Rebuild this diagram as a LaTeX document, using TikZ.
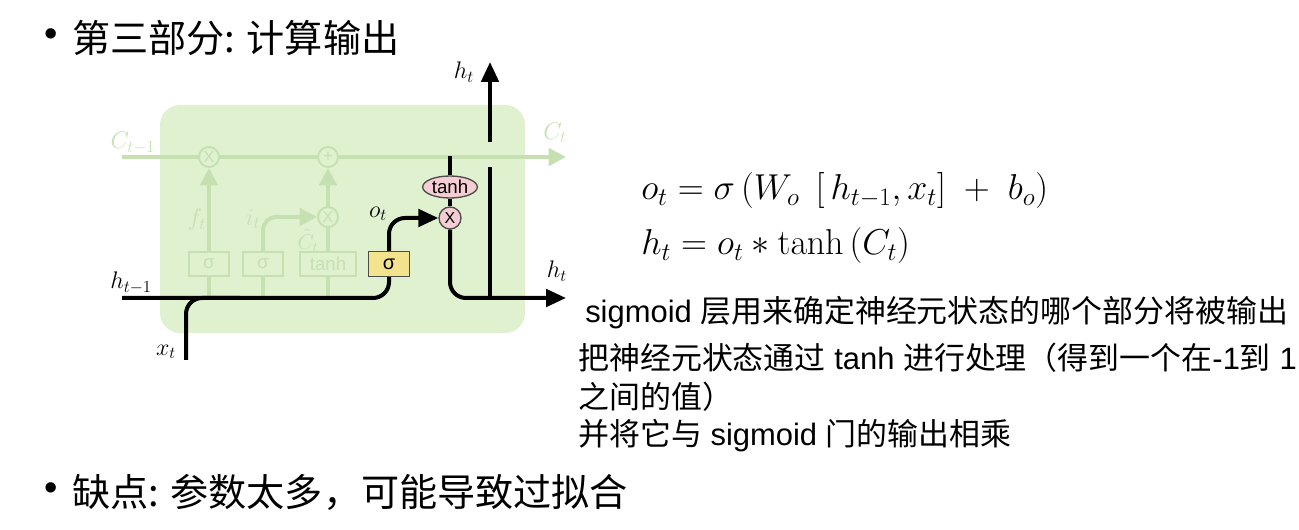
\RequirePackage{fix-cm}
\documentclass[tikz,border=0pt]{standalone}
\usepackage[no-math]{fontspec}
\setmainfont{Liberation Sans}
\newfontfamily\cjk{Noto Sans CJK SC}
\usetikzlibrary{arrows.meta,shapes.geometric}

\definecolor{cellbg}{RGB}{224,241,207}
\definecolor{ghost}{RGB}{198,224,178}
\definecolor{gatey}{RGB}{243,227,141}
\definecolor{gatep}{RGB}{245,205,211}

\tikzset{
	flow/.style={line width=3pt, black},
	flowarrow/.style={flow, -{Triangle[length=15pt,width=13pt]}},
	ghostline/.style={line width=3pt, color=ghost},
	ghostarrow/.style={ghostline, -{Triangle[length=13pt,width=13pt]}},
	ghostbox/.style={draw=ghost, fill=cellbg, line width=1.5pt, minimum width=30pt, minimum height=18pt, inner sep=0pt, text=ghost, font=\fontsize{14}{14}\selectfont},
	ghostop/.style={circle, draw=ghost, fill=cellbg, line width=1.5pt, minimum size=15pt, inner sep=0pt, text=ghost, font=\fontsize{12}{12}\selectfont},
	gatebox/.style={draw=black!70, fill=gatey, line width=1.2pt, minimum width=31pt, minimum height=18.5pt, inner sep=0pt, font=\fontsize{15}{15}\selectfont},
	pwop/.style={circle, draw=black!70, fill=gatep, line width=1pt, minimum size=16.5pt, inner sep=0pt, font=\fontsize{12}{12}\selectfont},
	pwfn/.style={ellipse, draw=black!70, fill=gatep, line width=1pt, minimum width=41pt, minimum height=16.5pt, inner sep=0pt, font=\fontsize{14}{14}\selectfont},
	lbl/.style={font=\fontsize{18}{18}\selectfont},
	ghostlbl/.style={lbl, text=ghost},
	eqn/.style={anchor=west, inner sep=0pt, font=\fontsize{27}{27}\selectfont},
	txt/.style={anchor=west, inner sep=0pt, font=\fontsize{23.2}{27}\selectfont},
	bigtxt/.style={anchor=west, inner sep=0pt, font=\fontsize{28.6}{32}\selectfont}
}

\begin{document}
\begin{tikzpicture}[x=0.75pt,y=0.75pt,yscale=-1,xscale=1]
	\useasboundingbox (0,0) rectangle (1299,530);

	% cell
	\fill [cellbg, rounded corners=15pt] (160,105) rectangle (525,333);

	% cell state line
	\coordinate (cin) at (122,157);
	\coordinate (cout) at (566,157);
	\draw [ghostarrow] (cin) -- (cout);

	% faded gates
	\node [ghostop] (fx) at (209,157) {X};
	\node [ghostop] (cadd) at (328,157) {+};
	\node [ghostop] (ix) at (328,217) {X};
	\node [ghostbox] (fgate) at (209,264) {σ};
	\node [ghostbox] (igate) at (263,264) {σ};
	\node [ghostbox, minimum width=42pt] (cgate) at (328,264) {tanh};

	\coordinate (hin) at (122,298);
	\draw [ghostarrow] (fgate.north) -- (fx.south);
	\draw [ghostline] (fgate.south) -- (fgate.south |- hin);
	\draw [ghostline] (igate.south) -- (igate.south |- hin);
	\draw [ghostline] (cgate.south) -- (cgate.south |- hin);
	\draw [ghostarrow, rounded corners=10pt] (igate.north) |- (ix.west);
	\draw [ghostline] (cgate.north) -- (ix.south);
	\draw [ghostarrow] (ix.north) -- (cadd.south);

	% output gate
	\node [gatebox] (ogate) at (389,264) {σ};
	\node [pwfn] (tanhc) at (450,187) {tanh};
	\node [pwop] (ox) at (450,218) {X};

	\coordinate (xin) at (186,360);
	\coordinate (xjoin) at (240,298);
	\coordinate (ctap) at (450,156);
	\coordinate (hout) at (566,298);
	\coordinate (hsplit) at (490,298);
	\coordinate (hgapl) at (490,167);
	\coordinate (hgapu) at (490,142);
	\coordinate (hup) at (490,62);

	\draw [flow, rounded corners=12pt] (hin) -| (ogate.south);
	\draw [flow, rounded corners=12pt] (xin) |- (xjoin);
	\draw [flowarrow, rounded corners=12pt] (ogate.north) |- (ox.west);
	\draw [flow] (ctap) -- (tanhc.north);
	\draw [flow] (tanhc.south) -- (ox.north);
	\draw [flowarrow, rounded corners=12pt] (ox.south) |- (hout);
	\draw [flow] (hsplit) -- (hgapl);
	\draw [flowarrow] (hgapu) -- (hup);

	% labels
	\node [ghostlbl] (lcin) at (133,143) {$C_{t-1}$};
	\node [ghostlbl] (lcout) at (555,133) {$C_t$};
	\node [ghostlbl] (lft) at (197,220) {$f_t$};
	\node [ghostlbl] (lit) at (253,219) {$i_t$};
	\node [ghostlbl, inner sep=0pt, font=\fontsize{16}{16}\selectfont] (lct) at (308,241) {$\tilde{C}_t$};
	\node [lbl] (lhin) at (131,283) {$h_{t-1}$};
	\node [lbl] (lxt) at (166,352) {$x_t$};
	\node [lbl] (lot) at (378,214) {$o_t$};
	\node [lbl] (lhup) at (464,72) {$h_t$};
	\node [lbl] (lhout) at (557,271) {$h_t$};

	% equations
	\node [eqn] (eqo) at (641,191) {$o_t = \sigma\,(W_o\ \,[\,h_{t-1}, x_t]\ +\ b_o)$};
	\node [eqn] (eqh) at (641,246) {$h_t = o_t * \tanh\,(C_t)$};

	% text
	\node [bigtxt] (dot1) at (44,38) {•};
	\node [bigtxt] (title) at (72,38) {\cjk 第三部分: 计算输出};
	\node [txt] (line1) at (585,313) {sigmoid {\cjk 层用来确定神经元状态的哪个部分将被输出}};
	\node [txt] (line2) at (578,358) {{\cjk 把神经元状态通过} tanh {\cjk 进行处理（得到一个在}-1{\cjk 到} 1};
	\node [txt] (line3) at (578,397) {\cjk 之间的值）};
	\node [txt] (line4) at (578,436) {{\cjk 并将它与} sigmoid {\cjk 门的输出相乘}};
	\node [bigtxt] (dot2) at (44,492) {•};
	\node [bigtxt] (cons) at (72,492) {\cjk 缺点: 参数太多，可能导致过拟合};
\end{tikzpicture}
\end{document}
